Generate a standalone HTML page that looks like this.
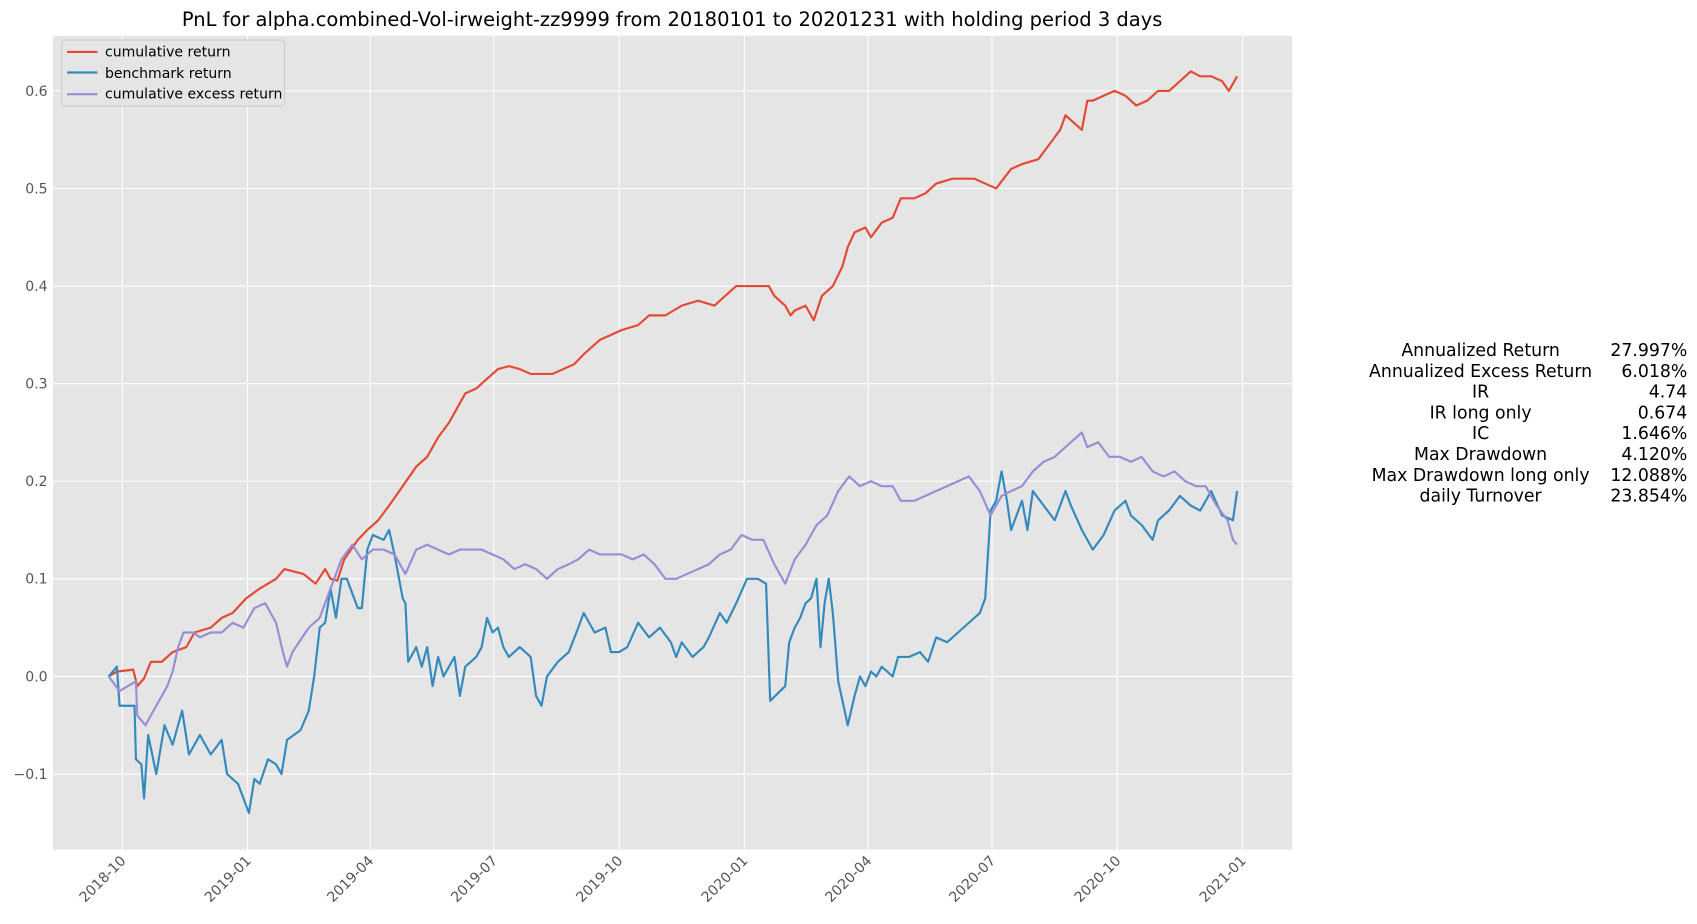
<!DOCTYPE html>
<html><head><meta charset="utf-8"><style>
body{margin:0;background:#fff;font-family:"Liberation Sans","DejaVu Sans",sans-serif}
svg text{font-family:"DejaVu Sans","Liberation Sans",sans-serif}
</style></head><body>
<svg id="chart" width="1697" height="919" xmlns="http://www.w3.org/2000/svg">
<g transform="scale(1.0823)">
<text x="621" y="24" font-size="18" text-anchor="middle" fill="#000">PnL for alpha.combined-Vol-irweight-zz9999 from 20180101 to 20201231 with holding period 3 days</text>
<rect x="49" y="33" width="1145" height="752" fill="#e5e5e5"/>
<g id="grid"></g><g id="series"></g><g id="axes"></g>
<g>
<rect x="57" y="37" width="206" height="61" fill="#e5e5e5" stroke="#ccc" rx="3"/>
<line x1="62" y1="48" x2="90" y2="48" stroke="#E24A33" stroke-width="2"/><text x="97" y="52" font-size="13">cumulative return</text>
<line x1="62" y1="67" x2="90" y2="67" stroke="#348ABD" stroke-width="2"/><text x="97" y="72" font-size="13">benchmark return</text>
<line x1="62" y1="87" x2="90" y2="87" stroke="#988ED5" stroke-width="2"/><text x="97" y="91" font-size="13">cumulative excess return</text>
</g>
<g id="stats" font-size="16"></g>
</g>
</svg>
<script>
const tickVals=[-0.1,0,0.1,0.2,0.3,0.4,0.5,0.6];
const tickLabels=["−0.1","0.0","0.1","0.2","0.3","0.4","0.5","0.6"];
const xTickDays=[0,92,182,273,365,457,548,639,731,823];
const xTickLabels=["2018-10","2019-01","2019-04","2019-07","2019-10","2020-01","2020-04","2020-07","2020-10","2021-01"];
const cumDays=[-10,-4,8,11,16,21,29,37,47,53,65,73,81,91,101,113,119,133,142,149,153,158,163,173,180,188,196,206,216,224,232,240,246,252,260,268,276,284,292,300,308,316,324,332,339,351,359,367,379,387,399,411,423,435,443,451,467,475,479,487,491,494,502,508,514,522,529,533,538,546,550,558,566,572,582,590,598,610,626,634,642,653,661,673,681,689,693,701,705,709,713,721,729,737,745,753,761,769,777,785,792,800,808,813,819];
const cumVals=[0,0.005,0.007,-0.01,-0.002,0.015,0.015,0.025,0.03,0.045,0.05,0.06,0.065,0.08,0.09,0.1,0.11,0.105,0.095,0.11,0.1,0.098,0.12,0.14,0.15,0.16,0.175,0.195,0.215,0.225,0.245,0.26,0.275,0.29,0.295,0.305,0.315,0.318,0.315,0.31,0.31,0.31,0.315,0.32,0.33,0.345,0.35,0.355,0.36,0.37,0.37,0.38,0.385,0.38,0.39,0.4,0.4,0.4,0.39,0.38,0.37,0.375,0.38,0.365,0.39,0.4,0.42,0.44,0.455,0.46,0.45,0.465,0.47,0.49,0.49,0.495,0.505,0.51,0.51,0.505,0.5,0.52,0.525,0.53,0.545,0.56,0.575,0.565,0.56,0.59,0.59,0.595,0.6,0.595,0.585,0.59,0.6,0.6,0.61,0.62,0.615,0.615,0.61,0.6,0.615];
const benchDays=[-10,-4,-2,9,10,14,16,19,25,31,37,44,49,57,65,73,77,85,93,97,101,107,113,117,121,131,137,141,145,149,153,157,161,165,173,176,180,184,192,196,200,206,208,210,216,220,224,228,232,236,244,248,252,260,264,268,272,276,280,284,292,300,304,308,312,320,328,335,339,343,347,355,359,365,371,379,387,395,403,407,411,419,427,431,439,444,451,459,467,473,476,487,490,494,498,502,506,510,513,516,519,522,526,533,538,542,546,550,554,558,566,570,578,586,592,598,606,614,622,630,634,638,642,646,650,653,661,665,669,677,685,693,697,705,713,721,729,737,741,749,757,761,769,777,785,792,800,808,816,819];
const benchVals=[0,0.01,-0.03,-0.03,-0.085,-0.09,-0.125,-0.06,-0.1,-0.05,-0.07,-0.035,-0.08,-0.06,-0.08,-0.065,-0.1,-0.11,-0.14,-0.105,-0.11,-0.085,-0.09,-0.1,-0.065,-0.055,-0.035,0,0.05,0.055,0.09,0.06,0.1,0.1,0.07,0.07,0.13,0.145,0.14,0.15,0.125,0.08,0.075,0.015,0.03,0.01,0.03,-0.01,0.02,0,0.02,-0.02,0.01,0.02,0.03,0.06,0.045,0.05,0.03,0.02,0.03,0.02,-0.02,-0.03,0,0.015,0.025,0.05,0.065,0.055,0.045,0.05,0.025,0.025,0.03,0.055,0.04,0.05,0.035,0.02,0.035,0.02,0.03,0.04,0.065,0.055,0.075,0.1,0.1,0.095,-0.025,-0.01,0.035,0.05,0.06,0.075,0.08,0.1,0.03,0.075,0.1,0.065,-0.005,-0.05,-0.02,0,-0.01,0.005,0,0.01,0,0.02,0.02,0.025,0.015,0.04,0.035,0.045,0.055,0.065,0.08,0.17,0.18,0.21,0.18,0.15,0.18,0.15,0.19,0.175,0.16,0.19,0.175,0.15,0.13,0.145,0.17,0.18,0.165,0.155,0.14,0.16,0.17,0.185,0.175,0.17,0.19,0.165,0.16,0.19];
const excDays=[-10,-2,10,11,17,25,33,37,41,45,52,57,65,73,81,89,97,105,113,118,121,125,137,145,153,161,169,176,184,192,200,208,216,224,232,240,248,256,264,272,280,288,296,304,312,320,328,335,343,351,359,367,375,383,391,399,407,415,423,431,439,447,455,463,471,479,487,494,502,510,518,526,534,542,550,558,566,572,582,590,598,606,614,622,630,638,646,653,661,669,677,685,693,701,705,709,717,725,733,741,749,757,765,773,781,789,796,804,812,816,819];
const excVals=[0,-0.015,-0.005,-0.04,-0.05,-0.03,-0.01,0.005,0.03,0.045,0.045,0.04,0.045,0.045,0.055,0.05,0.07,0.075,0.055,0.025,0.01,0.025,0.05,0.06,0.09,0.12,0.135,0.12,0.13,0.13,0.125,0.105,0.13,0.135,0.13,0.125,0.13,0.13,0.13,0.125,0.12,0.11,0.115,0.11,0.1,0.11,0.115,0.12,0.13,0.125,0.125,0.125,0.12,0.125,0.115,0.1,0.1,0.105,0.11,0.115,0.125,0.13,0.145,0.14,0.14,0.115,0.095,0.12,0.135,0.155,0.165,0.19,0.205,0.195,0.2,0.195,0.195,0.18,0.18,0.185,0.19,0.195,0.2,0.205,0.19,0.165,0.185,0.19,0.195,0.21,0.22,0.225,0.235,0.245,0.25,0.235,0.24,0.225,0.225,0.22,0.225,0.21,0.205,0.21,0.2,0.195,0.195,0.175,0.16,0.14,0.135];
const statLabels=["Annualized Return","Annualized Excess Return","IR","IR long only","IC","Max Drawdown","Max Drawdown long only","daily Turnover"];
const statValues=["27.997%","6.018%","4.74","0.674","1.646%","4.120%","12.088%","23.854%"];

const NS="http://www.w3.org/2000/svg";
const X=d=>113+d*1.2576, Y=v=>625-v*901.7;
function mk(tag,attrs,parent){const e=document.createElementNS(NS,tag);for(const k in attrs)e.setAttribute(k,attrs[k]);parent.appendChild(e);return e;}
const grid=document.getElementById('grid'),axes=document.getElementById('axes'),ser=document.getElementById('series');
tickVals.forEach((v,i)=>{
 const l=mk('line',{x1:49,x2:1194,y1:Y(v),y2:Y(v),stroke:'#fff','stroke-width':1},grid);
 
 
 const t=mk('text',{x:44,y:Y(v)+4.5,'font-size':13,fill:'#555','text-anchor':'end'},axes);
 
 
 t.textContent=tickLabels[i];
});
xTickDays.forEach((d,i)=>{
 const l=mk('line',{x1:X(d),x2:X(d),y1:33,y2:785,stroke:'#fff','stroke-width':1},grid);
 
 
 const t=mk('text',{x:X(d)+4,y:796,'font-size':13,fill:'#555','text-anchor':'end',transform:`rotate(-45 ${X(d)+4} 796)`},axes);
 
 
 t.textContent=xTickLabels[i];
});
function line(days,vals,color,name){
 const p=mk('polyline',{points:days.map((d,i)=>X(d).toFixed(1)+','+Y(vals[i]).toFixed(1)).join(' '),fill:'none',stroke:color,'stroke-width':2,'stroke-linejoin':'round'},ser);
 
 
}
line(cumDays,cumVals,'#E24A33','cumulative-return-line');
line(benchDays,benchVals,'#348ABD','benchmark-return-line');
line(excDays,excVals,'#988ED5','cumulative-excess-return-line');
const st=document.getElementById('stats');
statLabels.forEach((s,i)=>{
 const y=329+i*19.2;
 const a=mk('text',{x:1368,y:y,'text-anchor':'middle'},st);
 
 
 a.textContent=s;
 const b=mk('text',{x:1559,y:y,'text-anchor':'end'},st);
 
 
 b.textContent=statValues[i];
});
</script>
</body></html>
